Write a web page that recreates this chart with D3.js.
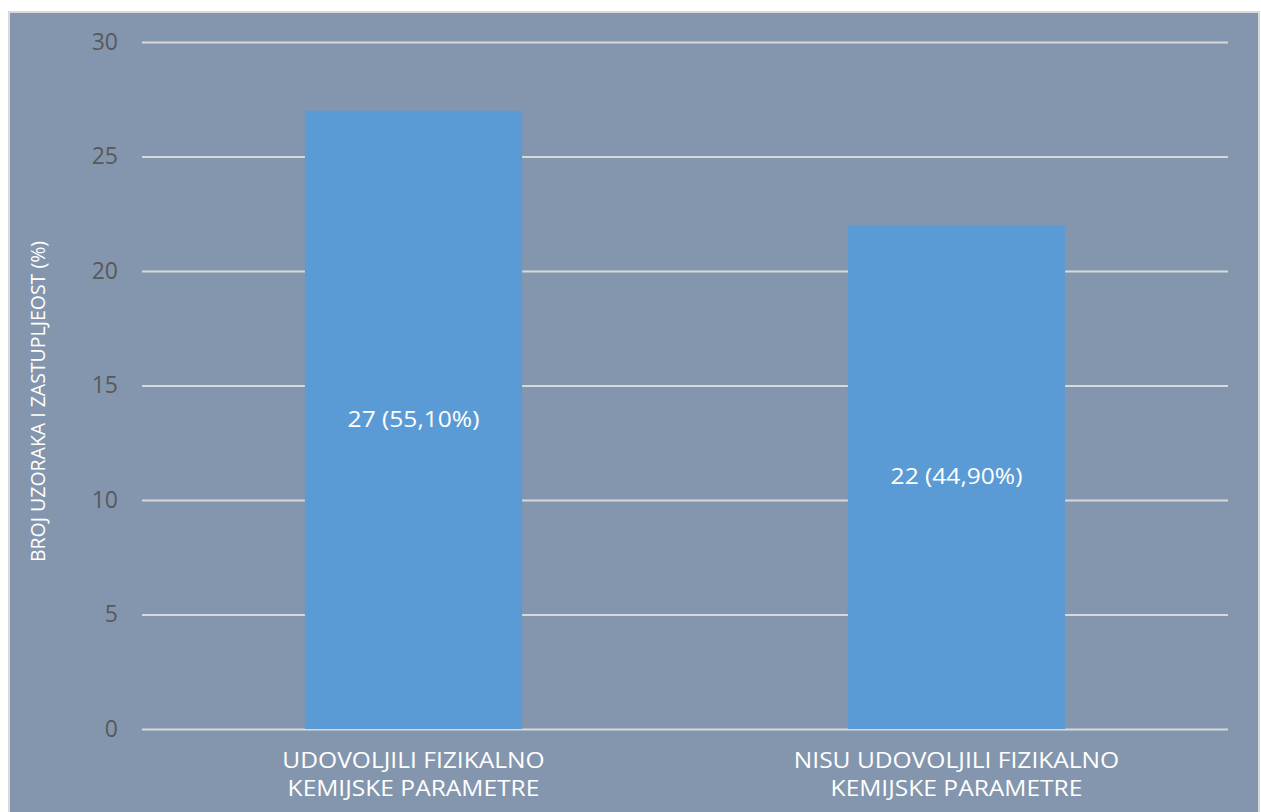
<!DOCTYPE html>
<html>
<head>
<meta charset="utf-8">
<script src="https://cdn.jsdelivr.net/npm/d3@7"></script>
<style>
  html, body { margin: 0; padding: 0; background: #ffffff; }
  svg { display: block; }
  text { font-family: "Open Sans", "Noto Sans", sans-serif; }
</style>
</head>
<body>
<svg id="chart" width="1261" height="812"></svg>
<script>
// Categories (two-line labels) and values
const categories = [
  ["UDOVOLJILI FIZIKALNO", "KEMIJSKE PARAMETRE"],
  ["NISU UDOVOLJILI FIZIKALNO", "KEMIJSKE PARAMETRE"]
];
const counts = [27, 22];
const shares = ["55,10%", "44,90%"];
const yTicks = [0, 5, 10, 15, 20, 25, 30];
const yTitle = "BROJ UZORAKA I ZASTUPLJEOST (%)";

const svg = d3.select("#chart");

// Horizontal widening applied to the white labels
const labelStretch = 1.17;

// Panel background with thin light border
svg.append("rect")
  .attr("x", 9).attr("y", 12)
  .attr("width", 1250).attr("height", 820)
  .attr("fill", "#8396ae")
  .attr("stroke", "#d9d9d9")
  .attr("stroke-width", 2);

const plot = { left: 142, right: 1228, top: 42, bottom: 729 };

const x = d3.scaleBand()
  .domain(d3.range(categories.length))
  .range([plot.left, plot.right])
  .paddingInner(0.6)
  .paddingOuter(0.3);

const y = d3.scaleLinear()
  .domain([0, 30])
  .range([plot.bottom, plot.top]);

// Gridlines
const grid = d3.axisLeft(y)
  .tickValues(yTicks)
  .tickSize(-(plot.right - plot.left))
  .tickFormat("");
const g = svg.append("g")
  .attr("transform", `translate(${plot.left},0)`)
  .call(grid);
g.select(".domain").remove();
g.selectAll(".tick line")
  .attr("stroke", "#d9d9d9")
  .attr("stroke-width", 2);

// Tick labels
const yAxis = d3.axisLeft(y)
  .tickValues(yTicks)
  .tickSize(0)
  .tickPadding(24);
const ga = svg.append("g")
  .attr("transform", `translate(${plot.left},0)`)
  .call(yAxis);
ga.select(".domain").remove();
ga.selectAll(".tick text")
  .attr("fill", "#595959")
  .attr("font-size", 23)
  .style("font-family", '"Open Sans", "Noto Sans", sans-serif');

// Bars
svg.append("g").selectAll("rect")
  .data(counts)
  .join("rect")
  .attr("x", (d, i) => x(i))
  .attr("y", d => y(d))
  .attr("width", x.bandwidth())
  .attr("height", d => y(0) - y(d))
  .attr("fill", "#5b9bd5");

// Value labels inside bars
svg.append("g").selectAll("text")
  .data(counts)
  .join("text")
  .attr("transform", (d, i) =>
    `translate(${x(i) + x.bandwidth() / 2},${(y(d) + y(0)) / 2}) scale(${labelStretch},1)`)
  .attr("dy", "0.35em")
  .attr("text-anchor", "middle")
  .attr("fill", "#ffffff")
  .attr("font-size", 21)
  .text((d, i) => `${d} (${shares[i]})`);

// Category labels
const cat = svg.append("g").selectAll("text")
  .data(categories)
  .join("text")
  .attr("transform", (d, i) =>
    `translate(${x(i) + x.bandwidth() / 2},768) scale(${labelStretch},1)`)
  .attr("text-anchor", "middle")
  .attr("fill", "#ffffff")
  .attr("font-size", 21);
cat.selectAll("tspan")
  .data(d => d)
  .join("tspan")
  .attr("x", 0)
  .attr("dy", (d, j) => j === 0 ? 0 : 28)
  .text(d => d);

// Y-axis title
svg.append("text")
  .attr("transform", `translate(45, ${(241 + 562) / 2}) rotate(-90)`)
  .attr("text-anchor", "middle")
  .attr("fill", "#ffffff")
  .attr("font-size", 20)
  .attr("textLength", 321)
  .attr("lengthAdjust", "spacingAndGlyphs")
  .text(yTitle);
</script>
</body>
</html>
